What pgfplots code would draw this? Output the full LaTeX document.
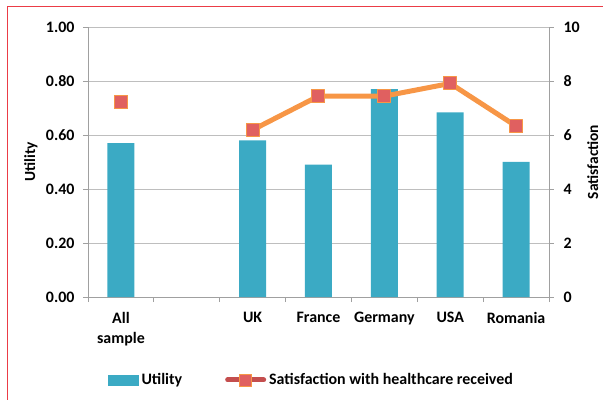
\documentclass[border=0pt]{standalone}
\usepackage{fontspec}
\setmainfont{Carlito}
\usepackage{pgfplots}
\pgfplotsset{compat=1.18}
\definecolor{barcol}{RGB}{59,170,196}
\definecolor{linecol}{RGB}{247,150,70}
\definecolor{markcol}{RGB}{224,96,96}
\definecolor{legred}{RGB}{196,78,78}
\definecolor{gridcol}{RGB}{190,190,190}
\definecolor{axcol}{RGB}{160,160,160}
\definecolor{framecol}{RGB}{235,60,70}
\begin{document}
\begin{tikzpicture}
\useasboundingbox (-88bp,-103bp) rectangle (515bp,297bp);
\draw[framecol, line width=0.8bp] (-81bp,-120bp) -- (-81bp,291bp) -- (530bp,291bp);
\pgfplotsset{
  every axis/.append style={
    width=461bp, height=270bp, scale only axis,
    xmin=-0.5, xmax=6.5,
    tick label style={font=\fontsize{16}{19.5}\selectfont\bfseries},
    label style={font=\fontsize{15.5}{18}\selectfont\bfseries},
  }
}
\begin{axis}[
  ymin=0, ymax=1,
  ytick={0,0.2,...,1.0},
  axis x line*=bottom, axis y line*=left,
  axis line style={draw=axcol, line width=0.8bp},
  ymajorgrids, grid style={draw=gridcol, line width=0.8bp},
  major tick style={draw=axcol, line width=0.8bp},
  tick align=outside,
  major tick length=5bp,
  xtick={0,2,3,4,5,6},
  xticklabels={All\\sample,UK,France,Germany,USA,Romania},
  xticklabel style={align=center, text depth=0pt},
  x tick style={draw=none},
  minor xtick={-0.5,0.5,...,6.5},
  minor x tick style={draw=axcol, line width=0.8bp},
  minor tick length=5bp,
  yticklabel style={/pgf/number format/fixed, /pgf/number format/fixed zerofill, /pgf/number format/precision=2, /pgf/number format/assume math mode=true},
  ylabel={Utility},
  ylabel style={at={(axis description cs:-0.124,0.5)}, anchor=center},
  xticklabel shift=7bp,
  yticklabel shift=5bp,
]
\addplot[ybar, bar width=27bp, fill=barcol, draw=none] coordinates {
  (0,0.57) (2,0.58) (3,0.49) (4,0.77) (5,0.684) (6,0.50)
};
\end{axis}
\begin{axis}[
  ymin=0, ymax=10,
  ytick={0,2,...,10},
  axis x line=none, axis y line*=right,
  axis line style={draw=axcol, line width=0.8bp},
  major tick style={draw=axcol, line width=0.8bp},
  tick align=outside,
  major tick length=5bp,
  yticklabel style={/pgf/number format/assume math mode=true},
  yticklabel shift=6bp,
  ylabel={Satisfaction},
  ylabel style={at={(axis description cs:1.095,0.5)}, anchor=center},
  legend style={at={(axis description cs:0.486,-0.307)}, anchor=center, draw=none, fill=none,
    font=\fontsize{16}{19}\selectfont\bfseries, legend columns=2,
    /tikz/every even column/.append style={column sep=40bp},
    nodes={inner sep=3bp}},
  legend cell align=left,
]
\addlegendimage{legend image code/.code={\fill[barcol] (0bp,-5bp) rectangle (30bp,5bp);}}
\addlegendentry{Utility}
\addlegendimage{legend image code/.code={\draw[legred, line width=5bp, line cap=round] (0bp,0bp) -- (36bp,0bp); \fill[linecol] (12bp,-6bp) rectangle (24bp,6bp); \fill[markcol] (13bp,-5bp) rectangle (23bp,5bp);}}
\addlegendentry{Satisfaction with healthcare received}
\addplot[forget plot, only marks, mark=square*, mark size=6.5bp, mark options={fill=markcol, draw=linecol, line width=1bp}] coordinates {(0,7.23)};
\addplot[forget plot, linecol, line width=5bp, line join=round, mark=square*, mark size=6.5bp, mark options={fill=markcol, draw=linecol, line width=1bp}] coordinates {
  (2,6.19) (3,7.44) (4,7.44) (5,7.91) (6,6.33)
};
\end{axis}
\end{tikzpicture}
\end{document}
